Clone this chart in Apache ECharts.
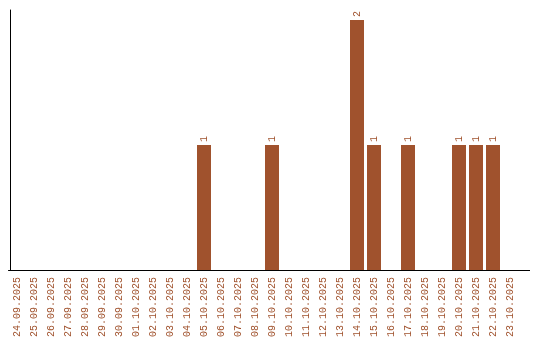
<!DOCTYPE html>
<html>
<head>
<meta charset="utf-8">
<script src="https://cdn.jsdelivr.net/npm/echarts@6/dist/echarts.min.js"></script>
<style>html,body{margin:0;padding:0;background:#fff}#c{width:540px;height:340px}</style>
</head>
<body>
<div id="c"></div>
<script>
var categories = ["24.09.2025","25.09.2025","26.09.2025","27.09.2025","28.09.2025","29.09.2025","30.09.2025","01.10.2025","02.10.2025","03.10.2025","04.10.2025","05.10.2025","06.10.2025","07.10.2025","08.10.2025","09.10.2025","10.10.2025","11.10.2025","12.10.2025","13.10.2025","14.10.2025","15.10.2025","16.10.2025","17.10.2025","18.10.2025","19.10.2025","20.10.2025","21.10.2025","22.10.2025","23.10.2025"];
var counts = [0,0,0,0,0,0,0,0,0,0,0,1,0,0,0,1,0,0,0,0,2,1,0,1,0,0,1,1,1,0];

var color = '#A0522D';
var font = '"Liberation Mono", "DejaVu Sans Mono", monospace';
var chart = echarts.init(document.getElementById('c'), null, {renderer: 'canvas'});
chart.setOption({
  animation: false,
  grid: {left: 8.5, right: 21.5, top: 10, bottom: 70, containLabel: false},
  xAxis: {
    type: 'category',
    data: categories,
    axisLine: {lineStyle: {color: '#000', width: 1}},
    axisTick: {show: false},
    axisLabel: {rotate: 90, color: color, fontFamily: font, fontSize: 10, margin: 7, interval: 0}
  },
  yAxis: {
    type: 'value',
    min: 0,
    max: 2.08,
    offset: -2,
    axisLine: {show: true, lineStyle: {color: '#000', width: 1}},
    axisTick: {show: false},
    axisLabel: {show: false},
    splitLine: {show: false}
  },
  series: [{
    type: 'bar',
    data: counts.map(function (v) { return v === 0 ? null : v; }),
    barWidth: 14,
    itemStyle: {color: color},
    label: {
      show: true,
      position: 'top',
      distance: 3,
      rotate: 90,
      align: 'left',
      verticalAlign: 'middle',
      color: color,
      fontFamily: font,
      fontSize: 10
    }
  }],
  graphic: [{
    type: 'line',
    shape: {x1: 518, y1: 270.5, x2: 530, y2: 270.5},
    style: {stroke: '#000', lineWidth: 1}
  }]
});
</script>
</body>
</html>
